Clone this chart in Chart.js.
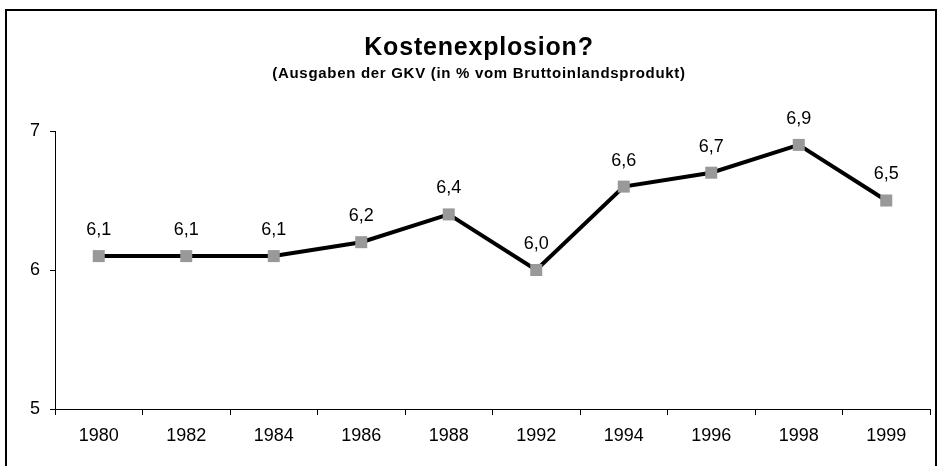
<!DOCTYPE html>
<html>
<head>
<meta charset="utf-8">
<script src="https://cdn.jsdelivr.net/npm/chart.js@4"></script>
<style>
  html, body { margin: 0; padding: 0; background: #fff; overflow: hidden; }
  #wrap { position: relative; width: 941px; height: 466px; }
  #frame { position: absolute; left: 5px; top: 9px; width: 932px; height: 470px; border: 2px solid #000; box-sizing: border-box; pointer-events: none; }
  canvas { position: absolute; left: 0; top: 0; }
</style>
</head>
<body>
<div id="wrap">
  <canvas id="chart" width="941" height="466"></canvas>
  <div id="frame"></div>
</div>
<script>
const years = ['1980', '1982', '1984', '1986', '1988', '1992', '1994', '1996', '1998', '1999'];
const gkvShare = [6.1, 6.1, 6.1, 6.2, 6.4, 6.0, 6.6, 6.7, 6.9, 6.5];
const yTicks = [5, 6, 7];
const titleText = 'Kostenexplosion?';
const subtitleText = '(Ausgaben der GKV (in % vom Bruttoinlandsprodukt)';

const FONT = '"Liberation Sans", Arial, sans-serif';

// title drawn by hand so the slight letter spacing of the original can be kept
const spacedTitles = {
    id: 'spacedTitles',
    afterDraw(chart) {
        const ctx = chart.ctx;
        const cx = 479;
        ctx.save();
        ctx.fillStyle = '#000';
        ctx.textAlign = 'center';
        ctx.textBaseline = 'middle';
        ctx.font = 'bold 25px ' + FONT;
        ctx.letterSpacing = '0.8px';
        ctx.fillText(titleText, cx, 48);
        ctx.font = 'bold 15px ' + FONT;
        ctx.letterSpacing = '0.7px';
        ctx.fillText(subtitleText, cx, 74);
        ctx.restore();
    }
};

// labels above each point, German decimal comma
const valueLabels = {
    id: 'valueLabels',
    afterDatasetsDraw(chart) {
        const ctx = chart.ctx;
        const meta = chart.getDatasetMeta(0);
        ctx.save();
        ctx.font = '18px ' + FONT;
        ctx.fillStyle = '#000';
        ctx.textAlign = 'center';
        ctx.textBaseline = 'middle';
        meta.data.forEach((pt, i) => {
            ctx.fillText(gkvShare[i].toFixed(1).replace('.', ','), pt.x, pt.y - 26);
        });
        ctx.restore();
    }
};

Chart.defaults.font.family = FONT;
Chart.defaults.color = '#000';

new Chart(document.getElementById('chart').getContext('2d'), {
    type: 'line',
    data: {
        labels: years,
        datasets: [{
            data: gkvShare,
            borderColor: '#000',
            borderWidth: 4,
            tension: 0,
            pointStyle: 'rect',
            pointRadius: 8.5,
            pointHoverRadius: 8.5,
            pointBackgroundColor: '#999999',
            pointBorderColor: '#999999',
            pointBorderWidth: 0,
            clip: false
        }]
    },
    options: {
        responsive: false,
        animation: false,
        layout: { padding: { top: 131, right: 11, left: 0, bottom: 0 } },
        plugins: {
            legend: { display: false },
            tooltip: { enabled: false },
            title: { display: false }
        },
        scales: {
            x: {
                offset: true,
                grid: { offset: true, drawOnChartArea: false, drawTicks: true, tickLength: 6, color: '#000' },
                border: { display: true, color: '#000', width: 1 },
                ticks: { font: { size: 18 }, padding: 10, maxRotation: 0 },
                afterFit(scale) { scale.height = 57; }
            },
            y: {
                min: 5,
                max: 7,
                grid: { drawOnChartArea: false, drawTicks: true, tickLength: 5, color: '#000' },
                border: { display: true, color: '#000', width: 1 },
                ticks: {
                    font: { size: 18 },
                    padding: 10,
                    stepSize: 1,
                    callback: (v) => yTicks.includes(v) ? String(v) : ''
                },
                afterFit(scale) { scale.width = 55; }
            }
        }
    },
    plugins: [valueLabels, spacedTitles]
});
</script>
</body>
</html>
